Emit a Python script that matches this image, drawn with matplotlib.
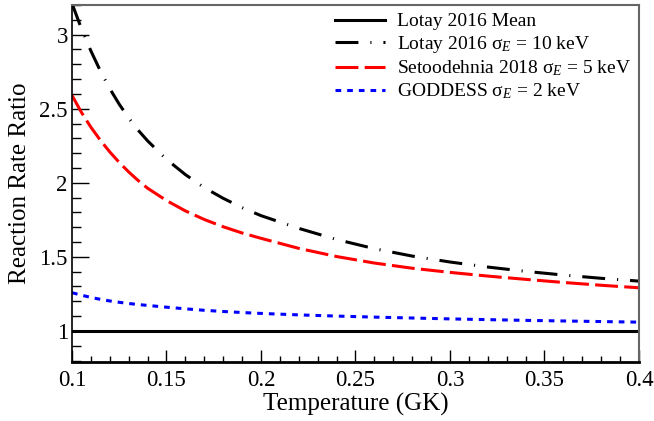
import matplotlib
matplotlib.use("Agg")
import matplotlib.pyplot as plt
from matplotlib.ticker import MultipleLocator, FuncFormatter

plt.rcParams['font.family'] = ['Liberation Serif', 'DejaVu Serif']
plt.rcParams['mathtext.fontset'] = 'custom'
plt.rcParams['mathtext.rm'] = 'Liberation Serif'
plt.rcParams['mathtext.it'] = 'Liberation Serif:italic'
plt.rcParams['lines.scale_dashes'] = False

# Data
temperature = [0.100, 0.105, 0.110, 0.115, 0.120, 0.125, 0.130, 0.135, 0.140,
               0.150, 0.160, 0.170, 0.180, 0.190, 0.200, 0.220, 0.240, 0.260,
               0.280, 0.300, 0.320, 0.340, 0.360, 0.380, 0.400]
lotay_mean = [1.0] * len(temperature)
lotay_10kev = [3.21, 3.04, 2.89, 2.755, 2.635, 2.53, 2.437, 2.355, 2.283,
               2.158, 2.055, 1.967, 1.895, 1.832, 1.778, 1.692, 1.617, 1.555,
               1.505, 1.465, 1.431, 1.402, 1.377, 1.355, 1.336]
setoodehnia_5kev = [2.59, 2.475, 2.375, 2.287, 2.208, 2.137, 2.073, 2.015, 1.963,
                    1.88, 1.81, 1.752, 1.703, 1.661, 1.625, 1.557, 1.502, 1.458,
                    1.423, 1.395, 1.37, 1.348, 1.327, 1.308, 1.291]
goddess_2kev = [1.258, 1.241, 1.226, 1.213, 1.202, 1.193, 1.185, 1.178, 1.172,
                1.160, 1.149, 1.139, 1.131, 1.124, 1.118, 1.108, 1.100, 1.093,
                1.087, 1.081, 1.076, 1.071, 1.067, 1.063, 1.059]

labels = ['Lotay 2016 Mean',
          'Lotay 2016 σ$_{E}$ = 10 keV',
          'Setoodehnia 2018 σ$_{E}$ = 5 keV',
          'GODDESS σ$_{E}$ = 2 keV']
x_ticks = [0.1, 0.15, 0.2, 0.25, 0.3, 0.35, 0.4]
y_ticks = [1, 1.5, 2, 2.5, 3]

fig = plt.figure(figsize=(6.54, 4.21), dpi=100)
ax = fig.add_axes([72/654, 1-362/421, (639-72)/654, (362-5)/421])

lw = 2.2
ax.plot(temperature, lotay_mean, color='black', lw=lw, label=labels[0])
ax.plot(temperature, lotay_10kev, color='black', lw=lw,
        dashes=(16.5, 8.6, 0.8, 8.6), label=labels[1])
ax.plot(temperature, setoodehnia_5kev, color='#ff0000', lw=lw,
        dashes=(16.5, 4.5), label=labels[2])
ax.plot(temperature, goddess_2kev, color='#0000ff', lw=lw,
        dashes=(4.1, 4.3), label=labels[3])

ax.set_xlim(0.1, 0.4)
ax.set_ylim(0.79, 3.2)
ax.set_xticks(x_ticks)
ax.set_yticks(y_ticks)
ax.xaxis.set_minor_locator(MultipleLocator(0.01))
ax.yaxis.set_minor_locator(MultipleLocator(0.1))
fmt = FuncFormatter(lambda v, p: ('%g' % round(v, 4)))
ax.xaxis.set_major_formatter(fmt)
ax.yaxis.set_major_formatter(fmt)

ax.tick_params(axis='both', which='both', direction='in', top=False, right=False,
               labelsize=16.5, width=1.0, color='black')
ax.tick_params(axis='y', which='major', length=12, pad=3)
ax.tick_params(axis='y', which='minor', length=6.2)
ax.tick_params(axis='x', which='major', length=8.6, pad=6)
ax.tick_params(axis='x', which='minor', length=4.3)

ax.spines['bottom'].set_linewidth(2.0)
ax.spines['left'].set_linewidth(1.2)
for s in ('top', 'right'):
    ax.spines[s].set_linewidth(1.5)
    ax.spines[s].set_color('#666666')

ax.set_xlabel('Temperature (GK)', fontsize=18, labelpad=1)
ax.set_ylabel('Reaction Rate Ratio', fontsize=18, labelpad=6)

leg = ax.legend(loc='upper right', bbox_to_anchor=(1.0, 1.0), frameon=False,
                fontsize=14, handlelength=2.6, handletextpad=0.6,
                labelspacing=0.18, borderaxespad=0.1, borderpad=0.3)

fig.savefig('out.png', dpi=100)
